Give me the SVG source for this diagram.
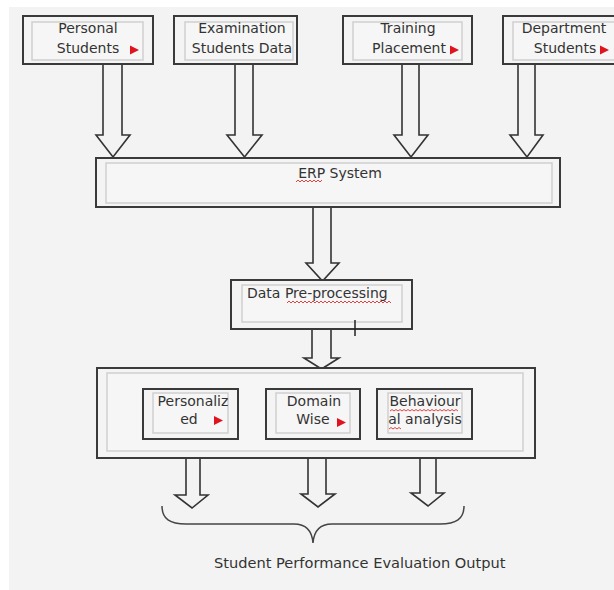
<svg xmlns="http://www.w3.org/2000/svg" width="614" height="590" viewBox="0 0 614 590">
<style>
.outer{fill:#f4f4f4;stroke:#3a3a3a;stroke-width:2}
.inner{fill:#f6f6f6;stroke:#cfcfcf;stroke-width:1.5}
.t{font-family:"DejaVu Sans",sans-serif;font-size:14px;fill:#333}
.m{text-anchor:middle}
.arr{fill:#f3f3f3;stroke:#333;stroke-width:1.6;stroke-linejoin:miter}
.tri{fill:#e0141e}
.wave{fill:none;stroke:#e03030;stroke-width:0.9}
</style>
<rect x="0" y="0" width="614" height="590" fill="#ffffff"/>
<rect x="9" y="7" width="605" height="583" fill="#f3f3f3"/>

<g id="connectors">
<polygon class="arr" points="103,64 103,135 96,135 113,157 130,135 122,135 122,64"/>
<polygon class="arr" points="235,64 235,135 227,135 244.5,157 262,135 253,135 253,64"/>
<polygon class="arr" points="402,64 402,135 394,135 411,157 428,135 419,135 419,64"/>
<polygon class="arr" points="518,64 518,135 510,135 527,157 543,135 535,135 535,64"/>
<polygon class="arr" points="313,207 313,263 306,263 322.5,281 339,263 331,263 331,207"/>
<polygon class="arr" points="312,329 312,358 304,358 321.5,369 339,358 331,358 331,329"/>
<polygon class="arr" points="186,453 186,495 175,495 192,508 208,495 200,495 200,453"/>
<polygon class="arr" points="308,453 308,494 301,494 318,507 335,494 326,494 326,453"/>
<polygon class="arr" points="420,453 420,493 411,493 428,506 444,493 436,493 436,453"/>
<path d="M162,506 C162,519 170,524 186,524 L294,524 C306,524 312,530 313,543 C314,530 320,524 332,524 L440,524 C456,524 464,519 464,506" fill="none" stroke="#444" stroke-width="1.5"/>
</g>

<g id="personal-students">
<rect class="outer" x="23" y="16" width="130" height="48"/>
<rect class="inner" x="32" y="22" width="111" height="38"/>
<text class="t m" x="88" y="33">Personal</text>
<text class="t m" x="88" y="53">Students</text>
<polygon class="tri" points="130,45.5 139,50 130,54.5"/>
</g>

<g id="examination-students-data">
<rect class="outer" x="174" y="16" width="123" height="48"/>
<rect class="inner" x="185" y="22" width="108" height="38"/>
<text class="t m" x="242" y="33">Examination</text>
<text class="t m" x="242" y="53">Students Data</text>
</g>

<g id="training-placement">
<rect class="outer" x="343" y="16" width="129" height="48"/>
<rect class="inner" x="353" y="22" width="109" height="38"/>
<text class="t m" x="408" y="33">Training</text>
<text class="t m" x="409" y="53">Placement</text>
<polygon class="tri" points="450,45.5 459,50 450,54.5"/>
</g>

<g id="department-students">
<rect class="outer" x="503" y="16" width="120" height="48"/>
<rect class="inner" x="513" y="22" width="110" height="38"/>
<text class="t m" x="564" y="33">Department</text>
<text class="t m" x="565" y="53">Students</text>
<polygon class="tri" points="600,45.5 609,50 600,54.5"/>
</g>

<g id="erp-system">
<rect class="outer" x="96" y="158" width="464" height="49"/>
<rect class="inner" x="106" y="163" width="446" height="40"/>
<text class="t m" x="340" y="178">ERP System</text>
<path class="wave" d="M296,182 l2,-2 l2,2 l2,-2 l2,2 l2,-2 l2,2 l2,-2 l2,2 l2,-2 l2,2 l2,-2 l2,2 l2,-2"/>
</g>

<g id="data-preprocessing">
<rect class="outer" x="231" y="280" width="181" height="49"/>
<rect class="inner" x="242" y="285" width="160" height="37"/>
<text class="t" x="247" y="298">Data Pre-processing</text>
<path class="wave" d="M287,303 l2,-2 l2,2 l2,-2 l2,2 l2,-2 l2,2 l2,-2 l2,2 l2,-2 l2,2 l2,-2 l2,2 l2,-2 l2,2 l2,-2 l2,2 l2,-2 l2,2 l2,-2 l2,2 l2,-2 l2,2 l2,-2 l2,2 l2,-2 l2,2 l2,-2 l2,2 l2,-2 l2,2 l2,-2 l2,2 l2,-2 l2,2 l2,-2 l2,2 l2,-2 l2,2 l2,-2 l2,2 l2,-2 l2,2 l2,-2 l2,2 l2,-2 l2,2 l2,-2 l2,2 l2,-2 l2,2 l2,-2 l2,2"/>
<line x1="355" y1="320" x2="355" y2="336" stroke="#222" stroke-width="1.5"/>
</g>

<g id="analysis-container">
<rect class="outer" x="97" y="368" width="438" height="90"/>
<rect class="inner" x="107" y="373" width="416" height="78"/>
</g>

<g id="personalized">
<rect class="outer" x="143" y="389" width="95" height="50"/>
<rect class="inner" x="153" y="393" width="75" height="40"/>
<text class="t m" x="193" y="406">Personaliz</text>
<text class="t m" x="189" y="424">ed</text>
<polygon class="tri" points="214,416 223,420.5 214,425"/>
</g>

<g id="domain-wise">
<rect class="outer" x="266" y="389" width="94" height="50"/>
<rect class="inner" x="276" y="393" width="74" height="40"/>
<text class="t m" x="314" y="406">Domain</text>
<text class="t m" x="313" y="424">Wise</text>
<polygon class="tri" points="337,418 346,422.5 337,427"/>
</g>

<g id="behavioural-analysis">
<rect class="outer" x="377" y="389" width="95" height="50"/>
<rect class="inner" x="388" y="393" width="74" height="40"/>
<text class="t m" x="425" y="406">Behaviour</text>
<text class="t m" x="425" y="424">al analysis</text>
<path class="wave" d="M390,411 l2,-1.5 l2,1.5 l2,-1.5 l2,1.5 l2,-1.5 l2,1.5 l2,-1.5 l2,1.5 l2,-1.5 l2,1.5 l2,-1.5 l2,1.5 l2,-1.5 l2,1.5 l2,-1.5 l2,1.5 l2,-1.5 l2,1.5 l2,-1.5 l2,1.5 l2,-1.5 l2,1.5 l2,-1.5 l2,1.5 l2,-1.5 l2,1.5 l2,-1.5 l2,1.5 l2,-1.5 l2,1.5 l2,-1.5 l2,1.5 l2,-1.5 l2,1.5"/>
<path class="wave" d="M389,429 l2,-1.5 l2,1.5 l2,-1.5 l2,1.5 l2,-1.5 l2,1.5"/>
</g>

<g id="output-label">
<text class="t" x="214" y="568" style="font-size:14.6px">Student Performance Evaluation Output</text>
</g>
</svg>
